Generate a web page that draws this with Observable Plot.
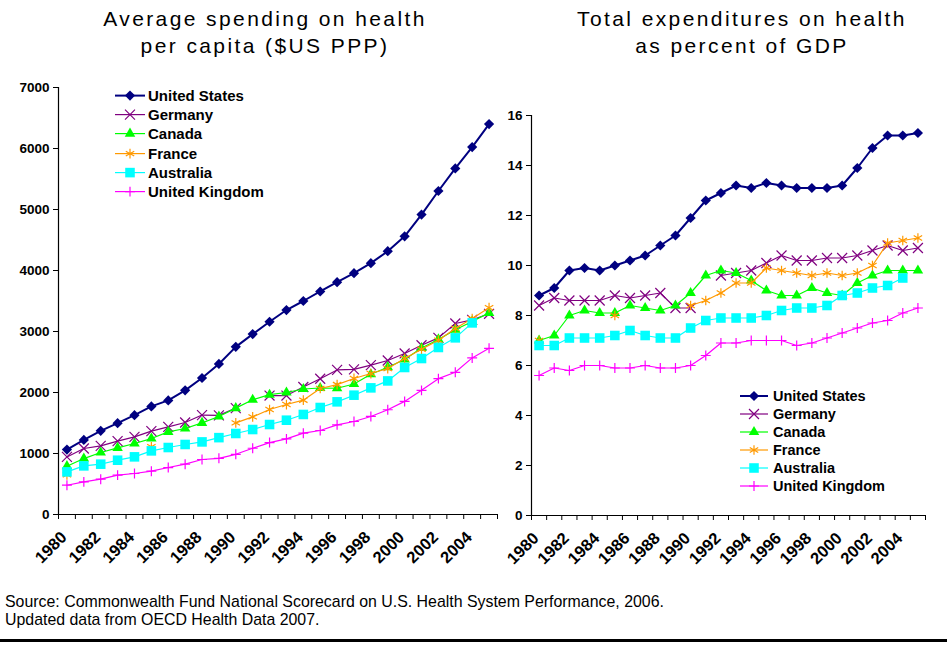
<!DOCTYPE html>
<html>
<head>
<meta charset="utf-8">
<script src="https://cdn.jsdelivr.net/npm/d3@7"></script>
<script src="https://cdn.jsdelivr.net/npm/@observablehq/plot@0.6"></script>
<style>
  body { margin: 0; background: #fff; }
  #wrap { position: relative; width: 947px; height: 645px; background: #fff; overflow: hidden; font-family: "Liberation Sans", Arial, sans-serif; }
  .title { position: absolute; text-align: center; font-size: 21px; letter-spacing: 2.4px; line-height: 27px; color: #000; white-space: nowrap; z-index: 2; }
  .panel { position: absolute; top: 0; z-index: 1; }
  .legend { position: absolute; font-weight: bold; color: #000; z-index: 3; }
  .legend .row { display: flex; align-items: center; white-space: nowrap; }
  .legend svg { display: block; }
  .source { position: absolute; left: 5px; top: 593px; font-size: 15.9px; line-height: 18px; color: #000; }
  .bottomline { position: absolute; left: 0; top: 639px; width: 947px; height: 3px; background: #000; }
</style>
</head>
<body>
<div id="wrap">
  <div class="panel" id="left" style="left:0px;"></div>
  <div class="panel" id="right" style="left:500px;"></div>
  <div class="title" style="left:40px;width:450px;top:5px;">Average spending on health<br>per capita ($US PPP)</div>
  <div class="title" style="left:517px;width:450px;top:5px;">Total expenditures on health<br>as percent of GDP</div>
  <div class="legend" id="legLeft" style="left:115px;top:86px;font-size:15px;"></div>
  <div class="legend" id="legRight" style="left:740px;top:387px;font-size:14.5px;"></div>
  <div class="source">Source: Commonwealth Fund National Scorecard on U.S. Health System Performance, 2006.<br>Updated data from OECD Health Data 2007.</div>
  <div class="bottomline"></div>
</div>
<script>
// ---- Data ----
const years = [1980, 1981, 1982, 1983, 1984, 1985, 1986, 1987, 1988, 1989, 1990, 1991, 1992,
               1993, 1994, 1995, 1996, 1997, 1998, 1999, 2000, 2001, 2002, 2003, 2004, 2005];
const yearLabels = [1980, 1982, 1984, 1986, 1988, 1990, 1992, 1994, 1996, 1998, 2000, 2002, 2004];
const countries = ["United States", "Germany", "Canada", "France", "Australia", "United Kingdom"];

// Average spending on health per capita ($US PPP)
const usSpend = [1064, 1223, 1371, 1497, 1629, 1772, 1870, 2035, 2238, 2468, 2748, 2957, 3160, 3352, 3500, 3656, 3809, 3956, 4120, 4316, 4561, 4916, 5303, 5674, 6023, 6401];
const deSpend = [944, 1082, 1125, 1202, 1273, 1366, 1437, 1508, 1630, 1625, 1744, null, 1950, 1950, 2090, 2225, 2370, 2380, 2448, 2525, 2640, 2775, 2896, 3131, 3190, 3290];
const caSpend = [792, 917, 1016, 1092, 1164, 1245, 1355, 1410, 1502, 1607, 1744, 1880, 1964, 2000, 2057, 2074, 2070, 2140, 2300, 2415, 2540, 2730, 2870, 3030, 3165, 3305];
const frSpend = [650, null, null, null, null, 1110, null, null, null, null, 1502, 1600, 1721, 1803, 1874, 2066, 2130, 2230, 2311, 2393, 2557, 2710, 2857, 3049, 3213, 3390];
const auSpend = [699, 797, 825, 890, 945, 1043, 1098, 1148, 1190, 1260, 1328, 1393, 1475, 1546, 1640, 1754, 1847, 1956, 2076, 2190, 2410, 2557, 2738, 2896, 3141, null];
const ukSpend = [480, 535, 579, 645, 672, 710, 770, 825, 902, 921, 987, 1086, 1179, 1240, 1333, 1377, 1470, 1525, 1607, 1717, 1854, 2035, 2227, 2331, 2567, 2724];

// Total expenditures on health as percent of GDP
const usGdp = [8.8, 9.1, 9.8, 9.9, 9.8, 10.0, 10.2, 10.4, 10.8, 11.2, 11.9, 12.6, 12.9, 13.2, 13.1, 13.3, 13.2, 13.1, 13.1, 13.1, 13.2, 13.9, 14.7, 15.2, 15.2, 15.3];
const deGdp = [8.4, 8.7, 8.6, 8.6, 8.6, 8.8, 8.7, 8.8, 8.9, 8.3, 8.3, null, 9.6, 9.7, 9.8, 10.1, 10.4, 10.2, 10.2, 10.3, 10.3, 10.4, 10.6, 10.8, 10.6, 10.7];
const caGdp = [7.0, 7.2, 8.0, 8.2, 8.1, 8.1, 8.4, 8.3, 8.2, 8.4, 8.9, 9.6, 9.8, 9.7, 9.4, 9.0, 8.8, 8.8, 9.1, 8.9, 8.8, 9.3, 9.6, 9.8, 9.8, 9.8];
const frGdp = [7.0, null, null, null, null, 8.0, null, null, null, null, 8.4, 8.6, 8.9, 9.3, 9.3, 9.9, 9.8, 9.7, 9.6, 9.7, 9.6, 9.7, 10.0, 10.9, 11.0, 11.1];
const auGdp = [6.8, 6.8, 7.1, 7.1, 7.1, 7.2, 7.4, 7.2, 7.1, 7.1, 7.5, 7.8, 7.9, 7.9, 7.9, 8.0, 8.2, 8.3, 8.3, 8.4, 8.8, 8.9, 9.1, 9.2, 9.5, null];
const ukGdp = [5.6, 5.9, 5.8, 6.0, 6.0, 5.9, 5.9, 6.0, 5.9, 5.9, 6.0, 6.4, 6.9, 6.9, 7.0, 7.0, 7.0, 6.8, 6.9, 7.1, 7.3, 7.5, 7.7, 7.8, 8.1, 8.3];

const spendTicks = [0, 1000, 2000, 3000, 4000, 5000, 6000, 7000];
const gdpTicks = [0, 2, 4, 6, 8, 10, 12, 14, 16];

// ---- Styles ----
const styles = {
  "United States":  {color: "#000080", symbol: "diamond2", filled: true,  r: 4.6, width: 2},
  "Germany":        {color: "#800080", symbol: "times",    filled: false, r: 4.6, width: 1.2},
  "Canada":         {color: "#00ff00", symbol: "triangle", filled: true,  r: 3.9, width: 1.2},
  "France":         {color: "#ff9900", symbol: "asterisk", filled: false, r: 4.6, width: 1.2},
  "Australia":      {color: "#00ffff", symbol: "square",   filled: true,  r: 5.4, width: 1.2},
  "United Kingdom": {color: "#ff00ff", symbol: "plus",     filled: false, r: 3.3, width: 1.2}
};

function rowsFor(arrays) {
  const rows = [];
  countries.forEach((c, k) => years.forEach((y, i) => rows.push({country: c, year: y, value: arrays[k][i]})));
  return rows;
}
const spendRows = rowsFor([usSpend, deSpend, caSpend, frSpend, auSpend, ukSpend]);
const gdpRows = rowsFor([usGdp, deGdp, caGdp, frGdp, auGdp, ukGdp]);

function seriesMarks(rows) {
  const marks = [];
  for (const c of countries) {
    const s = styles[c];
    const data = rows.filter(d => d.country === c);
    marks.push(Plot.line(data, {x: "year", y: "value", stroke: s.color, strokeWidth: s.width}));
    marks.push(Plot.dot(data.filter(d => d.value != null), s.filled
      ? {x: "year", y: "value", symbol: () => s.symbol, r: s.r, fill: s.color, stroke: "none"}
      : {x: "year", y: "value", symbol: () => s.symbol, r: s.r, fill: "none", stroke: s.color, strokeWidth: 1.2}));
  }
  return marks;
}

function panel({rows, yDomain, yTicks, width, marginLeft, marginRight, marginTop, marginBottom}) {
  const x0 = years[0] - 0.5, x1 = years[years.length - 1] + 0.5;
  const bounds = [x0, ...years.map(y => y + 0.5)];
  const svg = Plot.plot({
    width, height: 580, marginLeft, marginRight, marginTop, marginBottom,
    style: {fontFamily: "'Liberation Sans', Arial, sans-serif", fontSize: "13.5px", fontWeight: "bold", background: "transparent", color: "#000", overflow: "visible"},
    x: {domain: [x0, x1], axis: null},
    y: {domain: yDomain, axis: null},
    marks: [
      Plot.axisY({ticks: yTicks, tickSize: 5, tickPadding: 4, tickFormat: d => String(d), stroke: "#000", label: null}),
      Plot.axisX({ticks: bounds, tickSize: 5, tickFormat: () => "", stroke: "#000", label: null}),
      Plot.axisX({ticks: yearLabels, tickSize: 0, tickPadding: 20, dx: -3, tickRotate: -45, tickFormat: d => String(d), label: null}),
      Plot.ruleX([x0], {stroke: "#000", strokeWidth: 1.2}),
      Plot.ruleY([0], {stroke: "#000", strokeWidth: 1.2}),
      ...seriesMarks(rows)
    ]
  });
  d3.select(svg).selectAll('g[aria-label="x-axis tick label"]').style("font-size", "16.5px");
  return svg;
}

document.getElementById("left").appendChild(panel({
  rows: spendRows, yDomain: [0, 7000], yTicks: spendTicks,
  width: 500, marginLeft: 58, marginRight: 3, marginTop: 87, marginBottom: 66
}));
document.getElementById("right").appendChild(panel({
  rows: gdpRows, yDomain: [0, 16], yTicks: gdpTicks,
  width: 447, marginLeft: 31, marginRight: 22, marginTop: 115, marginBottom: 65
}));

// ---- Legends ----
function legend(el, rowH, lineW, gap) {
  for (const c of countries) {
    const s = styles[c];
    const row = document.createElement("div");
    row.className = "row";
    row.style.height = rowH + "px";
    const svg = d3.create("svg").attr("width", lineW + gap).attr("height", rowH);
    svg.append("line").attr("x1", 0).attr("x2", lineW).attr("y1", rowH / 2).attr("y2", rowH / 2)
      .attr("stroke", s.color).attr("stroke-width", s.width);
    const symMap = {diamond2: d3.symbolDiamond2, times: d3.symbolTimes, triangle: d3.symbolTriangle,
                    asterisk: d3.symbolAsterisk, square: d3.symbolSquare, plus: d3.symbolPlus};
    const path = svg.append("path")
      .attr("transform", `translate(${lineW / 2},${rowH / 2})`)
      .attr("d", d3.symbol(symMap[s.symbol], Math.PI * s.r * s.r)());
    if (s.filled) path.attr("fill", s.color);
    else path.attr("fill", "none").attr("stroke", s.color).attr("stroke-width", 1.2);
    row.appendChild(svg.node());
    const t = document.createElement("span");
    t.textContent = c;
    row.appendChild(t);
    el.appendChild(row);
  }
}
legend(document.getElementById("legLeft"), 19.2, 30, 3);
legend(document.getElementById("legRight"), 18, 28, 5);
</script>
</body>
</html>
